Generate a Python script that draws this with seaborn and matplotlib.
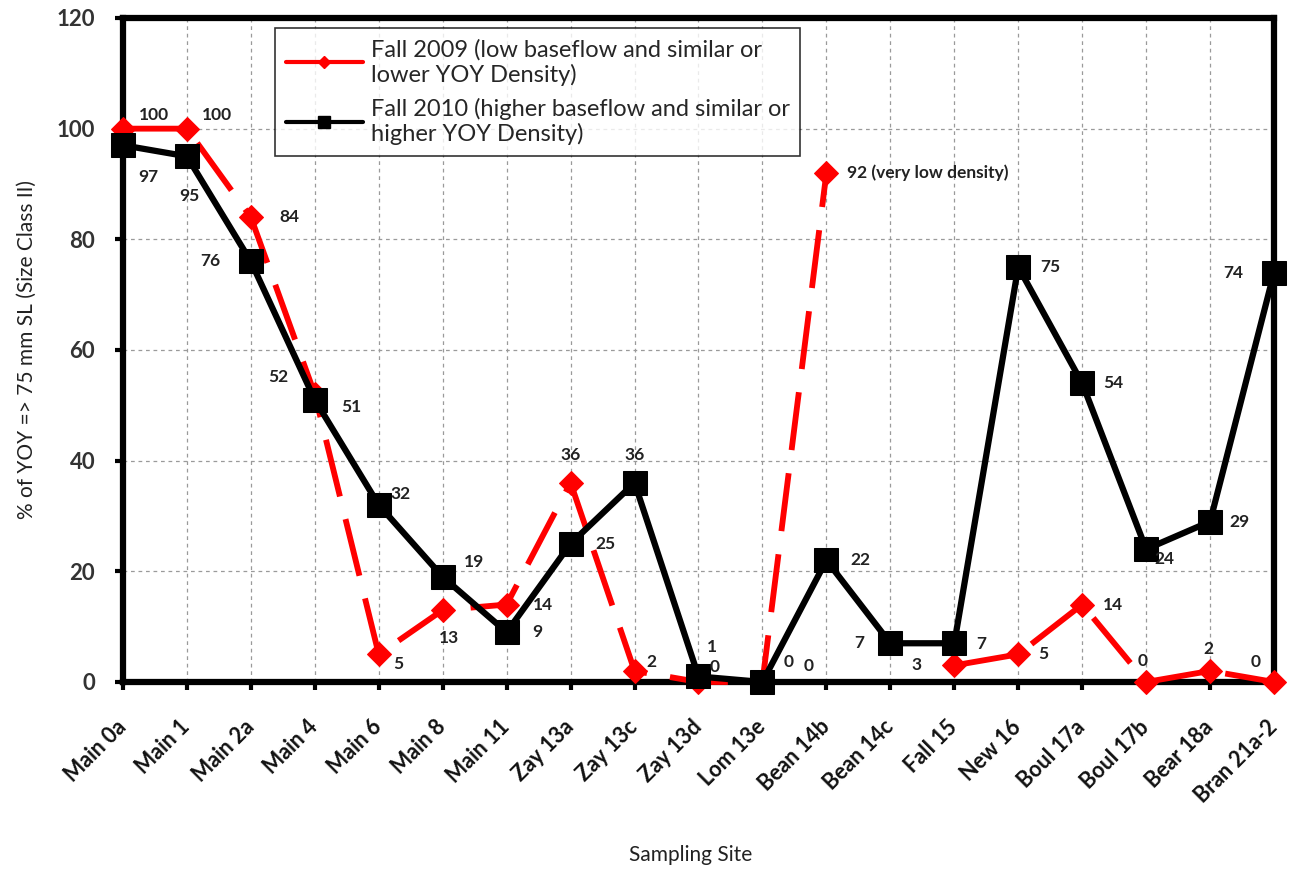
import numpy as np
import pandas as pd
import seaborn as sns
import matplotlib
matplotlib.use("Agg")
import matplotlib.pyplot as plt
from matplotlib.lines import Line2D

sns.set_theme(style="white")
plt.rcParams['font.family'] = ['Lato', 'DejaVu Sans']

sites = ['Main 0a', 'Main 1', 'Main 2a', 'Main 4', 'Main 6', 'Main 8', 'Main 11',
         'Zay 13a', 'Zay 13c', 'Zay 13d', 'Lom 13e', 'Bean 14b', 'Bean 14c',
         'Fall 15', 'New 16', 'Boul 17a', 'Boul 17b', 'Bear 18a', 'Bran 21a-2']
fall_2009 = [100, 100, 84, 52, 5, 13, 14, 36, 2, 0, 0, 92, np.nan, 3, 5, 14, 0, 2, 0]
fall_2010 = [97, 95, 76, 51, 32, 19, 9, 25, 36, 1, 0, 22, 7, 7, 75, 54, 24, 29, 74]

label_2009 = 'Fall 2009 (low baseflow and similar or\nlower YOY Density)'
label_2010 = 'Fall 2010 (higher baseflow and similar or\nhigher YOY Density)'

# label offsets in pixels (dx, dy)
off_2009 = [(31, 14), (30, 14), (39, 0), (-37, 17), (20, -10), (6, -28), (36, 0),
            (0, 28), (17, 9), (16, 15), (46, 16), (21, 0), None, (-38, 0),
            (25, 0), (31, 0), (-4, 21), (-2, 22), (-18, 20)]
off_2010 = [(25, -32), (2, -40), (-41, 0), (37, -7), (22, 11), (31, 15), (31, 0),
            (35, 0), (0, 28), (13, 29), (26, 20), (34, 0), (-31, 0), (27, -1),
            (32, 0), (31, 0), (18, -10), (29, 0), (-41, 0)]

df = pd.DataFrame({'pos': np.arange(len(sites)), 'site': sites,
                   'y2009': fall_2009, 'y2010': fall_2010})

fig = plt.figure(figsize=(12.97, 8.69), dpi=100)
ax = fig.add_axes([0.0948, 0.2152, 0.8875, 0.7641])

red = '#ff0000'
# 2009 series has a gap at Bean 14c
seg1 = df.iloc[:12]
seg2 = df.iloc[13:]
for seg in (seg1, seg2):
    sns.lineplot(data=seg, x='pos', y='y2009', ax=ax, color=red, lw=4.2,
                 linestyle=(0, (10, 4)), marker='D', markersize=12,
                 markeredgecolor=red, markerfacecolor=red, sort=False,
                 estimator=None, clip_on=False, zorder=3)
sns.lineplot(data=df, x='pos', y='y2010', ax=ax, color='black', lw=4.5,
             marker='s', markersize=17, markeredgecolor='black',
             markerfacecolor='black', sort=False, estimator=None,
             clip_on=False, zorder=4)

for i in range(len(sites)):
    if off_2009[i] is not None:
        txt = '%d' % fall_2009[i]
        ha = 'center'
        if sites[i] == 'Bean 14b':
            txt = '92 (very low density)'
            ha = 'left'
        ax.annotate(txt, (i, fall_2009[i]), xytext=off_2009[i],
                    textcoords='offset pixels', ha=ha, va='center',
                    fontsize=12.5, fontweight='bold', color='#222222', zorder=6)
    ax.annotate('%d' % fall_2010[i], (i, fall_2010[i]), xytext=off_2010[i],
                textcoords='offset pixels', ha='center', va='center',
                fontsize=12.5, fontweight='bold', color='#222222', zorder=6)

ax.set_xlim(0, len(sites) - 1)
ax.set_ylim(0, 120)
ax.set_yticks(range(0, 121, 20))
ax.set_xticks(range(len(sites)))
ax.set_xticklabels(sites, rotation=45, ha='right', va='center',
                   rotation_mode='anchor', fontsize=15.5, fontweight='bold')
for t in ax.get_yticklabels():
    t.set_fontsize(16)
    t.set_fontweight('bold')
    t.set_color('#333333')
for t in ax.get_xticklabels():
    t.set_color('#111111')

ax.tick_params(axis='x', direction='out', length=6, width=3, pad=24, color='black')
ax.tick_params(axis='y', direction='out', length=6, width=3, pad=14, color='black')
ax.tick_params(bottom=True, left=True)

ax.grid(True, color='#9a9a9a', linestyle=(0, (3, 3)), lw=0.9)
ax.set_axisbelow(True)
for s in ax.spines.values():
    s.set_visible(True)
    s.set_color('black')
    s.set_linewidth(4.5)

ax.set_xlabel('Sampling Site', fontsize=15, color='#222222', va='center')
ax.xaxis.set_label_coords(0.493, -0.26)
ax.set_ylabel('% of YOY => 75 mm SL (Size Class II)', fontsize=15, labelpad=14,
              color='#222222')

handles = [Line2D([], [], color=red, lw=3, marker='D', markersize=6),
           Line2D([], [], color='black', lw=3, marker='s', markersize=9)]
leg = ax.legend(handles, [label_2009, label_2010], loc='upper left',
                bbox_to_anchor=(0.132, 0.985), borderaxespad=0, fontsize=17,
                frameon=True, fancybox=False, edgecolor='black',
                handlelength=3.3, labelspacing=0.5, borderpad=0.45,
                handletextpad=0.3)
leg.get_frame().set_linewidth(1.2)
leg.set_zorder(10)

fig.savefig('out.png', dpi=100)
